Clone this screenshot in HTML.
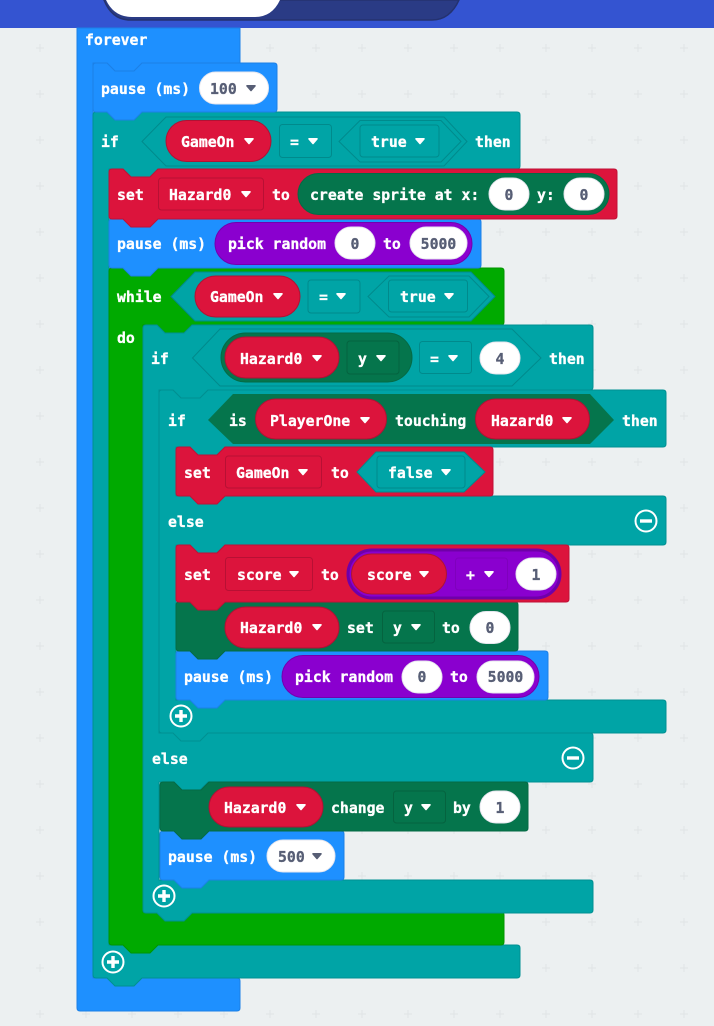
<!DOCTYPE html>
<html lang="en">
<head>
<meta charset="utf-8">
<title>forever blocks</title>
<style>
html,body{margin:0;padding:0;background:#ecf0f1;}
svg{display:block;}
text{font-family:"DejaVu Sans Mono","Liberation Mono",monospace;font-weight:bold;font-size:14.8px;fill:#fff;stroke:#fff;stroke-width:.3px;}
text.g{fill:#575e75;stroke:#575e75;text-anchor:middle;}
text.gl{fill:#575e75;stroke:#575e75;}
.blue{fill:#1e90ff;stroke:#1c80e6;stroke-width:1;}
.teal{fill:#00a4a6;stroke:#009092;stroke-width:1;}
.red{fill:#dc143c;stroke:#c01136;stroke-width:1;}
.green{fill:#00aa00;stroke:#009500;stroke-width:1;}
.dk{fill:#05754c;stroke:#056a45;stroke-width:1;}
.pur{fill:#8a00cf;stroke:#7300ad;stroke-width:1;}
.purb{fill:#8a00cf;stroke:#6f00a8;stroke-width:3;}
.wh{fill:#fff;stroke:#e6e6ee;stroke-width:1;}
.rr{fill:#dc143c;stroke:#b01234;stroke-width:1;}
.dd-teal{fill:#00a4a6;stroke:#008a8c;stroke-width:1;}
.dd-red{fill:#dc143c;stroke:#b81034;stroke-width:1;}
.dd-dk{fill:#05754c;stroke:#05633f;stroke-width:1;}
.dd-pur{fill:#8a00cf;stroke:#7f00bd;stroke-width:1;}
.hex{fill:#00a4a6;stroke:#008a8c;stroke-width:1;}
.ico{fill:none;stroke:#fff;stroke-width:2;}
</style>
</head>
<body>
<svg width="714" height="1026" viewBox="0 0 714 1026" xmlns="http://www.w3.org/2000/svg">
<defs>
<pattern id="grid" x="36" y="44" width="46" height="46" patternUnits="userSpaceOnUse">
<path d="M4 0V8M0 4H8" stroke="#e1e5e7" stroke-width="1.2" fill="none"/>
</pattern>
<path id="tw" d="M-4 -2.200H4L0 2.500Z" fill="#fff" stroke="#fff" stroke-width="1.6" stroke-linejoin="round"/>
<path id="tg" d="M-4 -2.200H4L0 2.500Z" fill="#575e75" stroke="#575e75" stroke-width="1.6" stroke-linejoin="round"/>
<g id="plus"><circle r="10.5" class="ico"/><path d="M0 -6V6M-6 0H6" stroke="#fff" stroke-width="3.4" fill="none"/></g>
<g id="minus"><circle r="10.5" class="ico"/><path d="M-6 0H6" stroke="#fff" stroke-width="3.4" fill="none"/></g>
</defs>

<rect width="714" height="1026" fill="#ecf0f1"/>
<rect width="714" height="1026" fill="url(#grid)"/>

<!-- header -->
<rect x="0" y="0" width="714" height="28" fill="#3454d1"/>
<path d="M104 0 Q112 20 130 20 H432 Q450 20 459 0 Z" fill="#2a3b85" stroke="#24326f" stroke-width="1.5"/>
<path d="M106 0 Q114 17 132 17 H255 Q272 17 280 0 Z" fill="#fff"/>

<!-- forever -->
<path class="blue" d="M77 28H240V63H142l-8 8h-19l-8-8H93V978H237q3 0 3 3V1008q0 3-3 3H80q-3 0-3-3Z"/>
<text x="85" y="45">forever</text>

<!-- if 1 -->
<path class="teal" d="M93 115q0-3 3-3H107l8 8h19l8-8H517q3 0 3 3V166q0 3-3 3H158l-8 8h-19l-8-8H109V945H517q3 0 3 3V975q0 3-3 3H142l-8 8h-19l-8-8H96q-3 0-3-3Z"/>
<!-- pause 100 -->
<path class="blue" d="M93 66q0-3 3-3H107l8 8h19l8-8H274q3 0 3 3V109q0 3-3 3H142l-8 8h-19l-8-8H96q-3 0-3-3Z"/>
<text x="101" y="94">pause (ms)</text>
<rect class="wh" x="199.500" y="72" width="69" height="32" rx="16"/>
<text class="gl" x="210" y="94">100</text><use href="#tg" x="251" y="88"/>

<text x="101" y="147">if</text>
<polygon class="hex" points="142,141.500 166,117 444,117 467,141.500 444,166 166,166"/>
<rect class="rr" x="166" y="120.500" width="105" height="41" rx="20.500"/>
<text x="181" y="147">GameOn</text><use href="#tw" x="249" y="141"/>
<rect class="dd-teal" x="279.500" y="124.500" width="52" height="33" rx="3"/>
<text x="290" y="147">=</text><use href="#tw" x="313" y="141"/>
<polygon class="hex" points="339,141.500 360,120.500 441,120.500 461,141.500 441,162 360,162"/>
<rect class="dd-teal" x="360" y="125" width="79" height="32" rx="3"/>
<text x="371" y="147">true</text><use href="#tw" x="420" y="141"/>
<text x="475" y="147">then</text>

<!-- while -->
<path class="green" d="M109 271q0-3 3-3H123l8 8h19l8-8H501q3 0 3 3V322q0 3-3 3H192l-8 8h-19l-8-8H143V912H501q3 0 3 3V942q0 3-3 3H158l-8 8h-19l-8-8H112q-3 0-3-3Z"/>
<text x="117" y="302">while</text>
<text x="117" y="343">do</text>
<polygon class="hex" points="171,296.500 195,272 471,272 495,296.500 471,321 195,321"/>
<rect class="rr" x="195" y="276" width="105" height="41" rx="20.500"/>
<text x="210" y="302">GameOn</text><use href="#tw" x="278" y="296"/>
<rect class="dd-teal" x="308" y="280" width="52" height="33" rx="3"/>
<text x="319" y="302">=</text><use href="#tw" x="341" y="296"/>
<polygon class="hex" points="368,296.500 389,276 469,276 489,296.500 469,317 389,317"/>
<rect class="dd-teal" x="388.500" y="280" width="79" height="32" rx="3"/>
<text x="400" y="302">true</text><use href="#tw" x="449" y="296"/>

<!-- if 2 -->
<path class="teal" d="M143 328q0-3 3-3H157l8 8h19l8-8H590q3 0 3 3V387q0 3-3 3H208l-8 8h-19l-8-8H159V733H590q3 0 3 3V779q0 3-3 3H208l-8 8h-19l-8-8H159V880H590q3 0 3 3V910q0 3-3 3H192l-8 8h-19l-8-8H146q-3 0-3-3Z"/>
<text x="151" y="364">if</text>
<polygon class="hex" points="192.500,358 220,329 512,329 541,358 512,386 220,386"/>
<rect class="dk" x="221" y="333" width="191" height="49" rx="24.500"/>
<rect class="rr" x="225" y="337" width="114" height="41" rx="20.500"/>
<text x="240" y="364">Hazard0</text><use href="#tw" x="317" y="358"/>
<rect class="dd-dk" x="347" y="341" width="52" height="33" rx="3"/>
<text x="358" y="364">y</text><use href="#tw" x="381" y="358"/>
<rect class="dd-teal" x="419.500" y="341.500" width="52" height="32" rx="3"/>
<text x="430" y="364">=</text><use href="#tw" x="453" y="358"/>
<rect class="wh" x="480" y="342" width="40" height="32" rx="16"/>
<text class="g" x="500" y="364">4</text>
<text x="549" y="364">then</text>
<text x="152" y="764">else</text>
<use href="#minus" x="573" y="758"/>

<!-- if 3 -->
<path class="teal" d="M159 393q0-3 3-3H173l8 8h19l8-8H663q3 0 3 3V444q0 3-3 3H225l-8 8h-19l-8-8H176V496H663q3 0 3 3V542q0 3-3 3H225l-8 8h-19l-8-8H176V700H663q3 0 3 3V730q0 3-3 3H208l-8 8h-19l-8-8H162q-3 0-3-3Z"/>
<text x="168" y="426">if</text>
<polygon points="208,420 233,394 590,394 614,420 590,444 233,444" fill="#05754c"/>
<text x="229" y="426">is</text>
<rect class="rr" x="255.500" y="399" width="131" height="40" rx="20"/>
<text x="270" y="426">PlayerOne</text><use href="#tw" x="365" y="420"/>
<text x="395" y="426">touching</text>
<rect class="rr" x="475.500" y="399" width="114" height="40" rx="20"/>
<text x="491" y="426">Hazard0</text><use href="#tw" x="567" y="420"/>
<text x="622" y="426">then</text>
<text x="168" y="527">else</text>
<use href="#minus" x="646" y="521"/>
<use href="#plus" x="181" y="716"/>

<!-- pause (inside else of if 3) -->
<path class="blue" d="M176 654q0-3 3-3H190l8 8h19l8-8H545q3 0 3 3V697q0 3-3 3H225l-8 8h-19l-8-8H179q-3 0-3-3Z"/>
<text x="184" y="682">pause (ms)</text>
<rect class="pur" x="282" y="655.500" width="257" height="42" rx="21"/>
<text x="295" y="682">pick random</text>
<rect class="wh" x="402" y="661" width="40" height="32" rx="16"/>
<text class="g" x="422" y="682">0</text>
<text x="450" y="682">to</text>
<rect class="wh" x="477" y="661" width="57" height="32" rx="16"/>
<text class="g" x="505.500" y="682">5000</text>

<!-- Hazard0 set y -->
<path class="dk" d="M176 605q0-3 3-3H190l8 8h19l8-8H515q3 0 3 3V648q0 3-3 3H225l-8 8h-19l-8-8H179q-3 0-3-3Z"/>
<rect class="rr" x="225" y="607" width="114" height="41" rx="20.500"/>
<text x="240" y="633">Hazard0</text><use href="#tw" x="317" y="627"/>
<text x="347" y="633">set</text>
<rect class="dd-dk" x="382.500" y="611" width="52" height="32" rx="3"/>
<text x="393" y="633">y</text><use href="#tw" x="416" y="627"/>
<text x="442" y="633">to</text>
<rect class="wh" x="470" y="611.500" width="40" height="32" rx="16"/>
<text class="g" x="490" y="633">0</text>

<!-- set score -->
<path class="red" d="M176 548q0-3 3-3H190l8 8h19l8-8H566q3 0 3 3V599q0 3-3 3H225l-8 8h-19l-8-8H179q-3 0-3-3Z"/>
<text x="184" y="580">set</text>
<rect class="dd-red" x="225.500" y="557.500" width="87" height="33" rx="3"/>
<text x="237" y="580">score</text><use href="#tw" x="294" y="574"/>
<text x="321" y="580">to</text>
<rect class="purb" x="348" y="550" width="212" height="48" rx="24"/>
<rect class="rr" x="351.500" y="554" width="95" height="40" rx="20"/>
<text x="367" y="580">score</text><use href="#tw" x="424" y="574"/>
<rect class="dd-pur" x="455.500" y="558" width="52" height="32" rx="3"/>
<text x="466" y="580">+</text><use href="#tw" x="489" y="574"/>
<rect class="wh" x="516" y="558" width="40" height="32" rx="16"/>
<text class="g" x="536" y="580">1</text>

<!-- set GameOn -->
<path class="red" d="M176 450q0-3 3-3H190l8 8h19l8-8H490q3 0 3 3V493q0 3-3 3H225l-8 8h-19l-8-8H179q-3 0-3-3Z"/>
<text x="184" y="478">set</text>
<rect class="dd-red" x="225.500" y="456" width="96" height="32" rx="3"/>
<text x="236" y="478">GameOn</text><use href="#tw" x="303" y="472"/>
<text x="331" y="478">to</text>
<polygon class="hex" points="357,472 376,452 464,452 485,472 464,492 376,492"/>
<rect class="dd-teal" x="377" y="456" width="88" height="32" rx="3"/>
<text x="388" y="478">false</text><use href="#tw" x="446" y="472"/>

<!-- pause 500 -->
<path class="blue" d="M160 834q0-3 3-3H174l8 8h19l8-8H341q3 0 3 3V877q0 3-3 3H209l-8 8h-19l-8-8H163q-3 0-3-3Z"/>
<text x="168" y="862">pause (ms)</text>
<rect class="wh" x="267" y="840" width="68" height="32" rx="16"/>
<text class="gl" x="278" y="862">500</text><use href="#tg" x="317" y="856"/>

<!-- Hazard0 change y -->
<path class="dk" d="M160 785q0-3 3-3H174l8 8h19l8-8H525q3 0 3 3V828q0 3-3 3H209l-8 8h-19l-8-8H163q-3 0-3-3Z"/>
<rect class="rr" x="209" y="787" width="114" height="40" rx="20"/>
<text x="224" y="813">Hazard0</text><use href="#tw" x="301" y="807"/>
<text x="331" y="813">change</text>
<rect class="dd-dk" x="393.500" y="791" width="52" height="32" rx="3"/>
<text x="404" y="813">y</text><use href="#tw" x="426" y="807"/>
<text x="453" y="813">by</text>
<rect class="wh" x="480" y="791" width="40" height="32" rx="16"/>
<text class="g" x="500" y="813">1</text>

<use href="#plus" x="164" y="896"/>

<!-- pause random -->
<path class="blue" d="M109 222q0-3 3-3H123l8 8h19l8-8H478q3 0 3 3V265q0 3-3 3H158l-8 8h-19l-8-8H112q-3 0-3-3Z"/>
<text x="117" y="249">pause (ms)</text>
<rect class="pur" x="215" y="222.500" width="257" height="42" rx="21"/>
<text x="228" y="249">pick random</text>
<rect class="wh" x="335" y="227" width="40" height="32" rx="16"/>
<text class="g" x="355" y="249">0</text>
<text x="383" y="249">to</text>
<rect class="wh" x="410" y="227" width="57" height="32" rx="16"/>
<text class="g" x="438.500" y="249">5000</text>

<!-- set Hazard0 -->
<path class="red" d="M109 172q0-3 3-3H123l8 8h19l8-8H614q3 0 3 3V216q0 3-3 3H158l-8 8h-19l-8-8H112q-3 0-3-3Z"/>
<text x="117" y="200">set</text>
<rect class="dd-red" x="158.500" y="178" width="105" height="32" rx="3"/>
<text x="169" y="200">Hazard0</text><use href="#tw" x="246" y="194"/>
<text x="272" y="200">to</text>
<rect class="dk" x="298" y="173.500" width="311" height="41" rx="20.500"/>
<text x="310" y="200">create sprite at x:</text>
<rect class="wh" x="489" y="178" width="40" height="32" rx="16"/>
<text class="g" x="509" y="200">0</text>
<text x="537" y="200">y:</text>
<rect class="wh" x="564" y="178" width="40" height="32" rx="16"/>
<text class="g" x="584" y="200">0</text>

<use href="#plus" x="113" y="962"/>
</svg>
</body>
</html>
